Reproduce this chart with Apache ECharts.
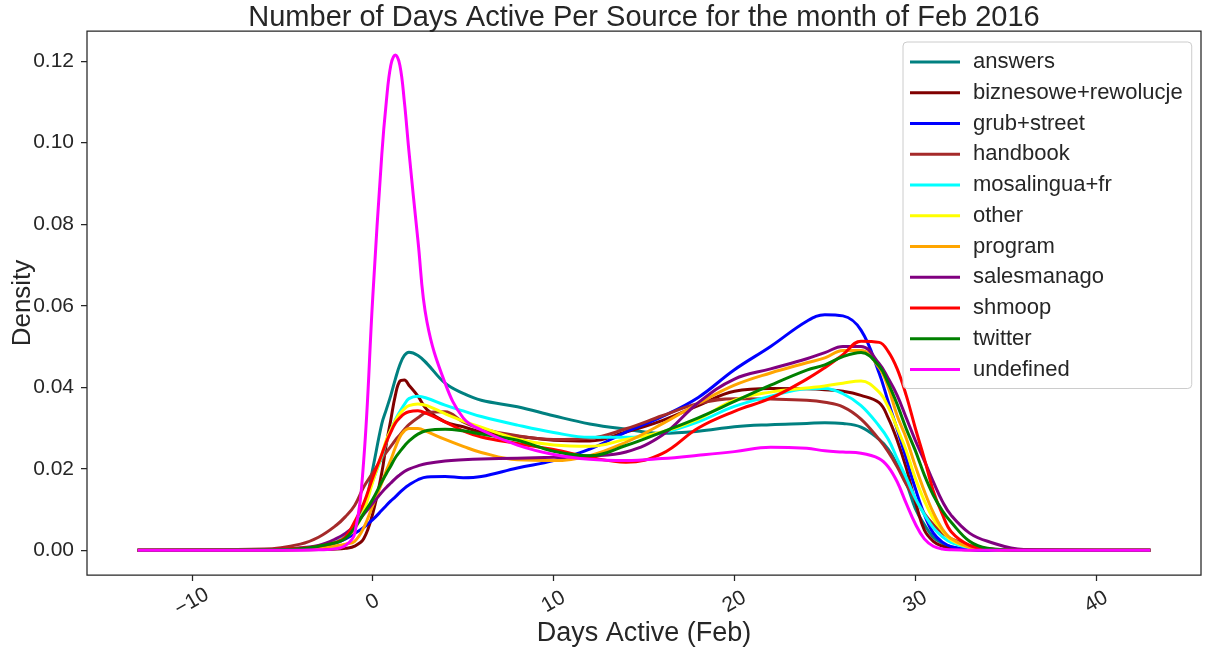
<!DOCTYPE html>
<html>
<head>
<meta charset="utf-8">
<script src="https://cdn.jsdelivr.net/npm/echarts@6/dist/echarts.min.js"></script>
<style>
html,body{margin:0;padding:0;background:#fff;}
#chart{width:1215px;height:654px;}
</style>
</head>
<body>
<div id="chart"></div>
<script>
// Shared x grid (Days Active)
const xs = [-13, -6, -4, -3, -2, -1.5, -1, -0.5, 0, 0.5, 0.75, 1, 1.25, 1.5, 1.75, 2, 2.5, 3, 4, 5, 6, 8, 10, 12, 14, 16, 18, 20, 22, 24, 25, 26, 27, 28, 28.5, 29, 29.5, 30, 30.5, 31, 31.5, 32, 33, 34, 36, 43];

const answers = [0, 0.0001, 0.0003, 0.0008, 0.002, 0.0035, 0.006, 0.0098, 0.02, 0.031, 0.0345, 0.038, 0.042, 0.0455, 0.0478, 0.0486, 0.0478, 0.0458, 0.041, 0.0385, 0.0368, 0.0352, 0.033, 0.031, 0.0297, 0.0287, 0.0292, 0.0303, 0.0308, 0.0311, 0.0313, 0.0311, 0.0302, 0.0272, 0.0248, 0.021, 0.0165, 0.0103, 0.0063, 0.0032, 0.0017, 0.0008, 0.0002, 0, 0, 0];
const biznesowe = [0, 0, 0.0001, 0.0002, 0.0003, 0.0005, 0.001, 0.0028, 0.009, 0.019, 0.026, 0.032, 0.038, 0.0415, 0.0418, 0.0405, 0.0378, 0.0345, 0.0315, 0.0303, 0.029, 0.028, 0.027, 0.0268, 0.029, 0.0318, 0.0355, 0.039, 0.0397, 0.0396, 0.0394, 0.039, 0.038, 0.0362, 0.0325, 0.027, 0.0202, 0.012, 0.005, 0.0022, 0.001, 0.0004, 0.0001, 0, 0, 0];
const grubStreet = [0, 0.0001, 0.0004, 0.0009, 0.0019, 0.0028, 0.0041, 0.0056, 0.0075, 0.0098, 0.011, 0.0121, 0.0131, 0.0142, 0.0152, 0.016, 0.0173, 0.018, 0.0181, 0.0178, 0.0181, 0.0202, 0.022, 0.0248, 0.029, 0.0328, 0.0375, 0.0443, 0.05, 0.0562, 0.0578, 0.0575, 0.054, 0.0435, 0.0365, 0.0297, 0.0225, 0.0152, 0.0088, 0.0042, 0.002, 0.0009, 0.0002, 0, 0, 0];
const handbook = [0, 0.0003, 0.0015, 0.0032, 0.0062, 0.0083, 0.011, 0.0155, 0.019, 0.0225, 0.024, 0.0255, 0.027, 0.0283, 0.0296, 0.0308, 0.0325, 0.0338, 0.034, 0.0315, 0.0298, 0.0281, 0.0272, 0.0275, 0.0298, 0.033, 0.036, 0.0372, 0.0371, 0.0368, 0.0363, 0.0352, 0.0322, 0.0272, 0.0242, 0.0205, 0.0162, 0.0125, 0.009, 0.0063, 0.0042, 0.0028, 0.0012, 0.0004, 0.0001, 0];
const mosalingua = [0, 0.0001, 0.0004, 0.001, 0.0022, 0.0035, 0.006, 0.0108, 0.017, 0.023, 0.0265, 0.0295, 0.032, 0.034, 0.0358, 0.0372, 0.0378, 0.0373, 0.0356, 0.0342, 0.0328, 0.0307, 0.0289, 0.0277, 0.0277, 0.0288, 0.0315, 0.0353, 0.0378, 0.0396, 0.0397, 0.0384, 0.0355, 0.0305, 0.0273, 0.0225, 0.0178, 0.0128, 0.0088, 0.0055, 0.0033, 0.0019, 0.0006, 0.0002, 0, 0];
const other = [0, 0.0001, 0.0004, 0.0009, 0.002, 0.0032, 0.0052, 0.0095, 0.0168, 0.0235, 0.027, 0.0295, 0.0318, 0.0335, 0.0347, 0.0355, 0.0359, 0.0355, 0.0335, 0.0317, 0.0302, 0.0273, 0.0258, 0.0255, 0.0272, 0.029, 0.0322, 0.0368, 0.0388, 0.0398, 0.0403, 0.041, 0.0415, 0.0388, 0.0352, 0.03, 0.0245, 0.0177, 0.0122, 0.0077, 0.0048, 0.0025, 0.0007, 0.0002, 0, 0];
const program = [0, 0.0001, 0.0003, 0.0006, 0.0011, 0.0015, 0.0022, 0.0055, 0.011, 0.0165, 0.0195, 0.0222, 0.0252, 0.0278, 0.0293, 0.0299, 0.0299, 0.0291, 0.0272, 0.0255, 0.024, 0.0222, 0.022, 0.0232, 0.0265, 0.031, 0.036, 0.0405, 0.0435, 0.046, 0.0472, 0.049, 0.049, 0.0448, 0.04, 0.033, 0.0275, 0.0207, 0.0145, 0.0092, 0.0052, 0.0028, 0.0007, 0.0002, 0, 0];
const salesmanago = [0, 0.0001, 0.0006, 0.0012, 0.0029, 0.0042, 0.006, 0.0088, 0.0115, 0.0142, 0.0154, 0.0165, 0.0176, 0.0185, 0.0193, 0.0199, 0.0207, 0.0213, 0.0219, 0.0222, 0.0224, 0.0226, 0.0228, 0.0231, 0.0241, 0.0282, 0.0362, 0.042, 0.0445, 0.047, 0.0485, 0.05, 0.05, 0.0458, 0.0422, 0.038, 0.0325, 0.027, 0.022, 0.0168, 0.012, 0.0085, 0.0042, 0.0022, 0.0002, 0];
const shmoop = [0, 0.0001, 0.0005, 0.001, 0.002, 0.0033, 0.007, 0.0115, 0.0178, 0.0235, 0.0265, 0.029, 0.0312, 0.0325, 0.0335, 0.034, 0.0342, 0.0335, 0.0315, 0.0293, 0.0278, 0.0262, 0.0247, 0.0228, 0.0216, 0.0237, 0.03, 0.0341, 0.0373, 0.042, 0.0448, 0.048, 0.0513, 0.051, 0.0488, 0.0445, 0.038, 0.03, 0.0225, 0.0145, 0.0088, 0.0045, 0.0012, 0.0003, 0, 0];
const twitter = [0, 0.0001, 0.0004, 0.001, 0.0019, 0.0029, 0.0055, 0.009, 0.0125, 0.0168, 0.0188, 0.0207, 0.0227, 0.0242, 0.0256, 0.0268, 0.0285, 0.0294, 0.0297, 0.0293, 0.0285, 0.027, 0.0243, 0.0232, 0.0257, 0.029, 0.0325, 0.0365, 0.0405, 0.0442, 0.0455, 0.0475, 0.0485, 0.0452, 0.041, 0.0358, 0.0298, 0.0245, 0.0185, 0.0135, 0.0097, 0.0068, 0.0022, 0.0005, 0, 0];
const undefinedSrc = [0, 0, 0, 0.0001, 0.0004, 0.0012, 0.004, 0.022, 0.062, 0.097, 0.11, 0.119, 0.1215, 0.119, 0.11, 0.098, 0.076, 0.056, 0.041, 0.0325, 0.0295, 0.0258, 0.0235, 0.0223, 0.022, 0.0225, 0.0233, 0.0242, 0.0253, 0.025, 0.0244, 0.0241, 0.0238, 0.0225, 0.0205, 0.0168, 0.0115, 0.0065, 0.0028, 0.001, 0.0003, 0.0001, 0, 0, 0, 0];

const seriesNames = ['answers', 'biznesowe+rewolucje', 'grub+street', 'handbook', 'mosalingua+fr', 'other', 'program', 'salesmanago', 'shmoop', 'twitter', 'undefined'];
const seriesValues = [answers, biznesowe, grubStreet, handbook, mosalingua, other, program, salesmanago, shmoop, twitter, undefinedSrc];
const seriesColors = ['#008080', '#800000', '#0000ff', '#a52a2a', '#00ffff', '#ffff00', '#ffa500', '#800080', '#ff0000', '#008000', '#ff00ff'];

const xTicks = [-10, 0, 10, 20, 30, 40];
const yTicks = [0, 0.02, 0.04, 0.06, 0.08, 0.10, 0.12];

const FONT = "'Liberation Sans', Arial, sans-serif";
const INK = '#262626';

const chart = echarts.init(document.getElementById('chart'), null, {renderer: 'canvas'});
chart.setOption({
  animation: false,
  backgroundColor: '#ffffff',
  textStyle: {fontFamily: FONT, color: INK},
  title: {
    text: 'Number of Days Active Per Source for the month of Feb 2016',
    left: 644, top: 3, padding: 0, textAlign: 'center',
    textStyle: {fontFamily: FONT, fontSize: 29, fontWeight: 'normal', color: INK}
  },
  grid: {
    left: 87, right: 14, top: 31, bottom: 79,
    outerBoundsMode: 'none', containLabel: false,
    show: true, borderColor: INK, borderWidth: 1.25, backgroundColor: 'transparent'
  },
  legend: {
    orient: 'vertical', left: 903, top: 42,
    padding: [9, 9, 8, 7],
    itemGap: 8.75, itemWidth: 50, itemHeight: 3, icon: 'rect',
    selectedMode: false,
    backgroundColor: 'rgba(255,255,255,0.8)', borderColor: '#cccccc', borderWidth: 1, borderRadius: 4,
    textStyle: {fontFamily: FONT, fontSize: 22, color: INK, lineHeight: 22, padding: [0, 0, 0, 8]},
    data: seriesNames
  },
  xAxis: {
    type: 'value', min: -15.8, max: 45.8,
    name: 'Days Active (Feb)', nameLocation: 'middle', nameGap: 45, nameMoveOverlap: false,
    nameTextStyle: {fontFamily: FONT, fontSize: 27, color: INK},
    axisLine: {show: false, onZero: false},
    axisTick: {show: true, length: 6, lineStyle: {color: INK, width: 1.25}, customValues: xTicks},
    axisLabel: {customValues: xTicks, rotate: 30, align: 'center', verticalAlign: 'middle', margin: 27,
      fontFamily: FONT, fontSize: 21, color: INK,
      formatter: v => (v < 0 ? '\u2212' + Math.abs(v) : String(v))},
    splitLine: {show: false}
  },
  yAxis: {
    type: 'value', min: -0.00607, max: 0.1274,
    name: 'Density', nameLocation: 'middle', nameGap: 51, nameMoveOverlap: false,
    nameTextStyle: {fontFamily: FONT, fontSize: 26, color: INK},
    axisLine: {show: false, onZero: false},
    axisTick: {show: true, length: 6, lineStyle: {color: INK, width: 1.25}, customValues: yTicks},
    axisLabel: {customValues: yTicks, margin: 13, fontFamily: FONT, fontSize: 21, color: INK,
      formatter: v => v.toFixed(2)},
    splitLine: {show: false}
  },
  series: seriesNames.map((name, k) => ({
    name: name,
    type: 'line',
    data: xs.map((x, i) => [x, seriesValues[k][i]]),
    smooth: 0.4,
    showSymbol: false,
    symbol: 'none',
    color: seriesColors[k],
    lineStyle: {width: 3, color: seriesColors[k]},
    emphasis: {disabled: true}
  }))
});
</script>
</body>
</html>
